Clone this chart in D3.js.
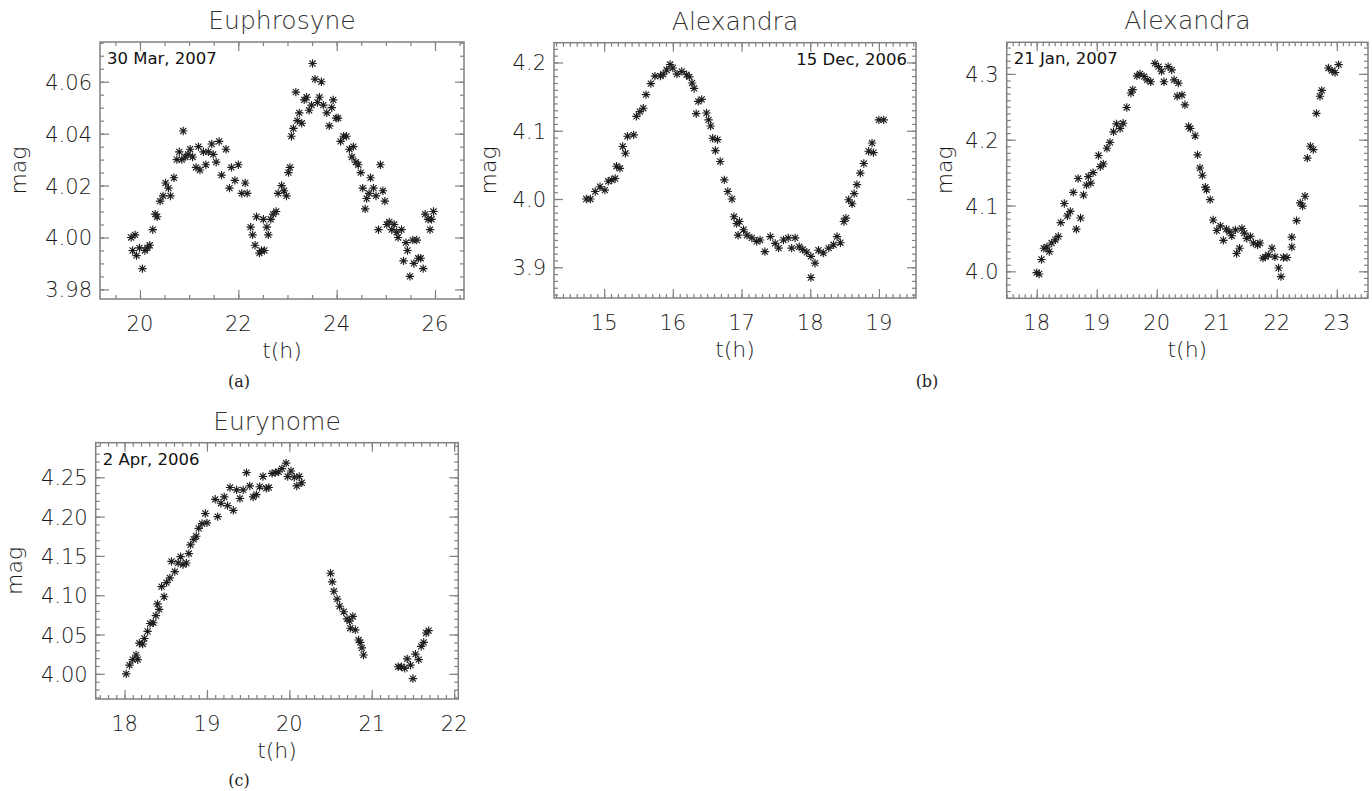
<!DOCTYPE html>
<html lang="en">
<head>
<meta charset="utf-8">
<title>Light curves</title>
<script src="https://d3js.org/d3.v7.min.js"></script>
<style>
  body { margin: 0; background: #fff; }
  .frame { fill: none; stroke: #808080; stroke-width: 1.5px; }
  .lbl { font-family: "DejaVu Sans", sans-serif; font-weight: 200; fill: #1a1a1a; }
  .title { font-family: "DejaVu Sans", sans-serif; font-weight: 200; fill: #333; font-size: 25px; }
  .date { font-family: "DejaVu Sans", sans-serif; font-size: 16.5px; fill: #111; }
  .sub { font-family: "DejaVu Serif", serif; font-size: 16px; fill: #222; }
  .star { fill: none; stroke: #1e1e1e; stroke-width: 1.15px; }
</style>
</head>
<body>
<script>
// t (h), mag
var euphrosyne = [[19.82,4.000],[19.90,4.001],[19.85,3.995],[19.93,3.993],[19.99,3.996],[20.05,3.988],[20.10,3.995],
  [20.15,3.996],[20.20,3.997],[20.26,4.003],[20.31,4.009],[20.35,4.008],[20.41,4.014],[20.47,4.016],[20.52,4.021],
  [20.58,4.019],[20.62,4.016],[20.69,4.023],[20.75,4.030],[20.80,4.033],[20.85,4.030],[20.88,4.041],[20.92,4.031],
  [20.98,4.032],[21.02,4.034],[21.07,4.031],[21.14,4.027],[21.19,4.035],[21.22,4.026],[21.29,4.033],[21.34,4.028],
  [21.39,4.033],[21.46,4.036],[21.49,4.032],[21.55,4.029],[21.61,4.037],[21.66,4.024],[21.75,4.034],[21.82,4.019],
  [21.86,4.027],[21.93,4.022],[22.00,4.028],[22.07,4.017],[22.14,4.021],[22.18,4.017],[22.25,4.004],[22.29,4.001],
  [22.34,3.997],[22.37,4.008],[22.43,3.994],[22.47,3.995],[22.53,3.995],[22.51,4.007],[22.58,4.004],[22.61,4.001],
  [22.66,4.007],[22.71,4.009],[22.77,4.010],[22.81,4.017],[22.88,4.020],[22.93,4.018],[22.98,4.016],[23.02,4.025],
  [23.05,4.027],[23.08,4.039],[23.12,4.042],[23.17,4.056],[23.20,4.045],[23.24,4.048],[23.29,4.044],[23.34,4.053],
  [23.39,4.054],[23.44,4.049],[23.49,4.051],[23.51,4.067],[23.56,4.061],[23.61,4.052],[23.65,4.054],[23.69,4.060],
  [23.73,4.051],[23.80,4.048],[23.85,4.043],[23.90,4.050],[23.93,4.053],[23.99,4.046],[24.03,4.046],[24.08,4.037],
  [24.14,4.039],[24.20,4.039],[24.26,4.034],[24.31,4.031],[24.34,4.035],[24.39,4.029],[24.44,4.028],[24.49,4.025],
  [24.53,4.019],[24.58,4.011],[24.61,4.015],[24.66,4.017],[24.69,4.023],[24.75,4.019],[24.80,4.016],[24.85,4.003],
  [24.89,4.028],[24.94,4.018],[24.98,4.014],[25.02,4.005],[25.07,4.006],[25.12,4.003],[25.17,4.005],[25.22,4.002],
  [25.25,4.000],[25.32,4.003],[25.36,3.991],[25.41,3.998],[25.44,3.995],[25.49,3.985],[25.55,3.999],[25.57,3.990],
  [25.63,3.999],[25.66,3.992],[25.71,3.992],[25.76,3.988],[25.80,4.009],[25.86,4.007],[25.90,4.003],[25.93,4.007],
  [25.97,4.010]];

var alexandraDec06 = [[14.74,4.000],[14.80,4.000],[14.87,4.011],[14.94,4.018],[15.01,4.013],[15.06,4.026],[15.11,4.028],
  [15.16,4.030],[15.18,4.048],[15.23,4.045],[15.27,4.077],[15.31,4.067],[15.34,4.092],[15.43,4.094],[15.47,4.121],
  [15.52,4.128],[15.57,4.133],[15.61,4.153],[15.68,4.169],[15.74,4.180],[15.82,4.180],[15.86,4.183],[15.91,4.189],
  [15.96,4.197],[16.00,4.192],[16.06,4.183],[16.13,4.187],[16.20,4.182],[16.24,4.179],[16.28,4.170],[16.31,4.162],
  [16.34,4.125],[16.37,4.143],[16.42,4.146],[16.49,4.126],[16.52,4.116],[16.55,4.107],[16.58,4.089],[16.65,4.087],
  [16.62,4.071],[16.69,4.055],[16.75,4.028],[16.80,4.011],[16.86,4.000],[16.89,3.974],[16.93,3.964],[16.97,3.967],
  [17.03,3.955],[17.08,3.947],[16.95,3.947],[17.15,3.943],[17.22,3.938],[17.27,3.940],[17.34,3.923],[17.42,3.945],
  [17.49,3.935],[17.54,3.928],[17.61,3.940],[17.68,3.943],[17.73,3.928],[17.78,3.943],[17.84,3.930],[17.89,3.926],
  [17.95,3.922],[18.01,3.916],[18.01,3.885],[18.07,3.906],[18.12,3.925],[18.19,3.921],[18.27,3.928],[18.34,3.933],
  [18.39,3.945],[18.44,3.936],[18.49,3.967],[18.52,3.972],[18.56,3.999],[18.61,3.993],[18.64,4.008],[18.68,4.021],
  [18.73,4.038],[18.78,4.052],[18.85,4.070],[18.90,4.082],[18.92,4.068],[19.00,4.116],[19.07,4.116]];

var alexandraJan07 = [[18.00,3.998],[18.04,3.996],[18.08,4.018],[18.12,4.035],[18.17,4.037],[18.21,4.030],[18.25,4.043],
  [18.31,4.048],[18.36,4.053],[18.40,4.074],[18.46,4.103],[18.51,4.084],[18.56,4.091],[18.61,4.120],[18.66,4.064],
  [18.69,4.141],[18.73,4.081],[18.78,4.116],[18.83,4.131],[18.86,4.144],[18.90,4.134],[18.94,4.150],[19.03,4.176],
  [19.06,4.159],[19.11,4.163],[19.17,4.187],[19.22,4.196],[19.28,4.212],[19.33,4.224],[19.39,4.217],[19.44,4.225],
  [19.50,4.249],[19.57,4.271],[19.60,4.276],[19.67,4.297],[19.72,4.300],[19.79,4.296],[19.84,4.291],[19.90,4.288],
  [19.97,4.316],[20.03,4.311],[20.08,4.304],[20.12,4.288],[20.19,4.311],[20.25,4.306],[20.29,4.291],[20.36,4.286],
  [20.34,4.266],[20.42,4.268],[20.47,4.253],[20.53,4.220],[20.56,4.217],[20.64,4.206],[20.68,4.177],[20.72,4.157],
  [20.76,4.146],[20.81,4.128],[20.83,4.124],[20.89,4.109],[20.94,4.078],[21.00,4.062],[21.06,4.069],[21.11,4.047],
  [21.16,4.064],[21.21,4.060],[21.25,4.054],[21.31,4.063],[21.33,4.027],[21.38,4.035],[21.42,4.065],[21.46,4.058],
  [21.50,4.050],[21.56,4.053],[21.61,4.043],[21.68,4.040],[21.72,4.043],[21.77,4.020],[21.81,4.022],[21.86,4.025],
  [21.92,4.035],[21.97,4.022],[22.03,4.005],[22.07,3.992],[22.11,4.021],[22.17,4.021],[22.25,4.052],[22.25,4.037],
  [22.33,4.077],[22.39,4.104],[22.43,4.099],[22.47,4.114],[22.51,4.172],[22.56,4.190],[22.61,4.185],[22.66,4.240],
  [22.72,4.266],[22.75,4.275],[22.86,4.309],[22.92,4.305],[22.97,4.302],[23.03,4.314]];

var eurynome = [[18.02,4.000],[18.06,4.011],[18.10,4.018],[18.14,4.024],[18.16,4.018],[18.18,4.039],[18.22,4.038],
  [18.24,4.045],[18.28,4.054],[18.31,4.064],[18.35,4.065],[18.38,4.074],[18.40,4.089],[18.42,4.082],[18.45,4.111],
  [18.48,4.098],[18.51,4.116],[18.55,4.122],[18.57,4.143],[18.61,4.130],[18.65,4.141],[18.68,4.149],[18.71,4.139],
  [18.75,4.141],[18.78,4.153],[18.80,4.164],[18.84,4.171],[18.87,4.175],[18.90,4.185],[18.94,4.191],[18.98,4.204],
  [19.00,4.192],[19.10,4.222],[19.13,4.200],[19.17,4.217],[19.21,4.225],[19.25,4.214],[19.28,4.237],[19.32,4.208],
  [19.36,4.234],[19.40,4.223],[19.44,4.234],[19.48,4.256],[19.52,4.239],[19.56,4.225],[19.60,4.228],[19.64,4.238],
  [19.68,4.251],[19.72,4.236],[19.75,4.237],[19.79,4.255],[19.83,4.256],[19.87,4.257],[19.91,4.261],[19.96,4.268],
  [19.98,4.251],[20.02,4.258],[20.06,4.250],[20.09,4.239],[20.12,4.251],[20.15,4.243],[20.50,4.128],[20.52,4.117],
  [20.54,4.105],[20.58,4.095],[20.61,4.086],[20.66,4.079],[20.70,4.070],[20.73,4.067],[20.77,4.073],[20.74,4.058],
  [20.80,4.056],[20.84,4.043],[20.86,4.040],[20.88,4.033],[20.90,4.024],[21.32,4.009],[21.36,4.009],[21.40,4.007],
  [21.43,4.019],[21.47,4.011],[21.50,3.994],[21.53,4.025],[21.57,4.018],[21.60,4.035],[21.63,4.040],[21.66,4.052],
  [21.69,4.055]];

var titles = ["Euphrosyne", "Alexandra", "Alexandra", "Eurynome"];
var dates = ["30 Mar, 2007", "15 Dec, 2006", "21 Jan, 2007", "2 Apr, 2006"];
var xTicks1 = [20, 22, 24, 26], yTicks1 = [3.98, 4.00, 4.02, 4.04, 4.06];
var xTicks2 = [15, 16, 17, 18, 19], yTicks2 = [3.9, 4.0, 4.1, 4.2];
var xTicks3 = [18, 19, 20, 21, 22, 23], yTicks3 = [4.0, 4.1, 4.2, 4.3];
var xTicks4 = [18, 19, 20, 21, 22], yTicks4 = [4.00, 4.05, 4.10, 4.15, 4.20, 4.25];

var w = 1372, h = 791;
var svg = d3.select("body").append("svg").attr("width", w).attr("height", h);

var panels = [
  {data: euphrosyne, box: [100, 42, 464, 299], xd: [19.187, 26.59], yd: [3.9763, 4.0753], magOff: 74,
   xt: xTicks1, yt: yTicks1, xm: 0.5, ym: 0.005, yf: ".2f", dateAnchor: "start", sub: "(a)", subX: 239, subY: 387},
  {data: alexandraDec06, box: [554, 42.7, 916, 298], xd: [14.27, 19.54], yd: [3.855, 4.229], magOff: 58,
   xt: xTicks2, yt: yTicks2, xm: 0.1, ym: 0.01, yf: ".1f", dateAnchor: "end", sub: "(b)", subX: 927, subY: 387},
  {data: alexandraJan07, box: [1006.7, 42.3, 1368, 298.3], xd: [17.5, 23.52], yd: [3.959, 4.348], magOff: 55,
   xt: xTicks3, yt: yTicks3, xm: 0.1, ym: 0.01, yf: ".1f", dateAnchor: "start"},
  {data: eurynome, box: [95.7, 442.7, 458.3, 699], xd: [17.65, 22.05], yd: [3.968, 4.294], magOff: 74,
   xt: xTicks4, yt: yTicks4, xm: 0.1, ym: 0.01, yf: ".2f", dateAnchor: "start", sub: "(c)", subX: 239, subY: 786}
];

// IDL style asterisk, 8 spokes
function star(r) {
  var d = r * 0.72;
  return "M" + (-r) + ",0L" + r + ",0M0," + (-r) + "L0," + r +
         "M" + (-d) + "," + (-d) + "L" + d + "," + d + "M" + (-d) + "," + d + "L" + d + "," + (-d);
}

function minorTicks(dom, step) {
  var out = [];
  var s = Math.ceil(dom[0] / step - 1e-6);
  for (var k = s; k * step <= dom[1] + 1e-9; k++) out.push(+(k * step).toFixed(4));
  return out;
}

panels.forEach(function(p, i) {
  var x0 = p.box[0], y0 = p.box[1], x1 = p.box[2], y1 = p.box[3];
  var x = d3.scaleLinear().domain(p.xd).range([x0, x1]);
  var y = d3.scaleLinear().domain(p.yd).range([y1, y0]);
  var g = svg.append("g");
  var pw = x1 - x0, ph = y1 - y0;

  // ticks on all four sides, pointing inward
  var xmin = minorTicks(p.xd, p.xm), ymin = minorTicks(p.yd, p.ym);
  function noDomain(a) { a.select(".domain").remove(); }
  g.append("g").attr("transform", "translate(0," + y1 + ")")
    .call(d3.axisBottom(x).tickValues(xmin).tickSize(-4).tickFormat("")).call(noDomain);
  g.append("g").attr("transform", "translate(0," + y0 + ")")
    .call(d3.axisTop(x).tickValues(xmin).tickSize(-4).tickFormat("")).call(noDomain);
  g.append("g").attr("transform", "translate(0," + y1 + ")")
    .call(d3.axisBottom(x).tickValues(p.xt).tickSize(-9).tickFormat("")).call(noDomain);
  g.append("g").attr("transform", "translate(0," + y0 + ")")
    .call(d3.axisTop(x).tickValues(p.xt).tickSize(-9).tickFormat("")).call(noDomain);
  g.append("g").attr("transform", "translate(" + x0 + ",0)")
    .call(d3.axisLeft(y).tickValues(ymin).tickSize(-4).tickFormat("")).call(noDomain);
  g.append("g").attr("transform", "translate(" + x1 + ",0)")
    .call(d3.axisRight(y).tickValues(ymin).tickSize(-4).tickFormat("")).call(noDomain);
  g.append("g").attr("transform", "translate(" + x0 + ",0)")
    .call(d3.axisLeft(y).tickValues(p.yt).tickSize(-9).tickFormat("")).call(noDomain);
  g.append("g").attr("transform", "translate(" + x1 + ",0)")
    .call(d3.axisRight(y).tickValues(p.yt).tickSize(-9).tickFormat("")).call(noDomain);
  g.selectAll(".tick line").attr("stroke", "#808080").attr("stroke-width", 1.2);

  g.append("rect").attr("class", "frame")
    .attr("x", x0).attr("y", y0).attr("width", pw).attr("height", ph);

  // tick labels
  g.selectAll(".xl").data(p.xt).enter().append("text").attr("class", "lbl")
    .attr("x", function(d) { return x(d); }).attr("y", y1 + 32)
    .attr("text-anchor", "middle").style("font-size", "21px").text(function(d) { return d; });
  g.selectAll(".yl").data(p.yt).enter().append("text").attr("class", "lbl")
    .attr("x", x0 - 8).attr("y", function(d) { return y(d) + 8; })
    .attr("text-anchor", "end").style("font-size", "21px").text(d3.format(p.yf));

  // axis titles
  g.append("text").attr("class", "lbl").attr("x", (x0 + x1) / 2).attr("y", y1 + 59)
    .attr("text-anchor", "middle").style("font-size", "22px").text("t(h)");
  g.append("text").attr("class", "lbl")
    .attr("transform", "translate(" + (x0 - p.magOff) + "," + ((y0 + y1) / 2) + ") rotate(-90)")
    .attr("text-anchor", "middle").style("font-size", "22px").text("mag");

  g.append("text").attr("class", "title").attr("x", (x0 + x1) / 2).attr("y", y0 - 13)
    .attr("text-anchor", "middle").text(titles[i]);

  g.append("text").attr("class", "date")
    .attr("x", p.dateAnchor === "end" ? x1 - 9 : x0 + 7).attr("y", y0 + 22)
    .attr("text-anchor", p.dateAnchor).text(dates[i]);

  if (p.sub) {
    svg.append("text").attr("class", "sub").attr("x", p.subX).attr("y", p.subY)
      .attr("text-anchor", "middle").text(p.sub);
  }

  g.selectAll(".star").data(p.data).enter().append("path").attr("class", "star")
    .attr("transform", function(d) { return "translate(" + x(d[0]) + "," + y(d[1]) + ")"; })
    .attr("d", star(4.2));
});
</script>
</body>
</html>
